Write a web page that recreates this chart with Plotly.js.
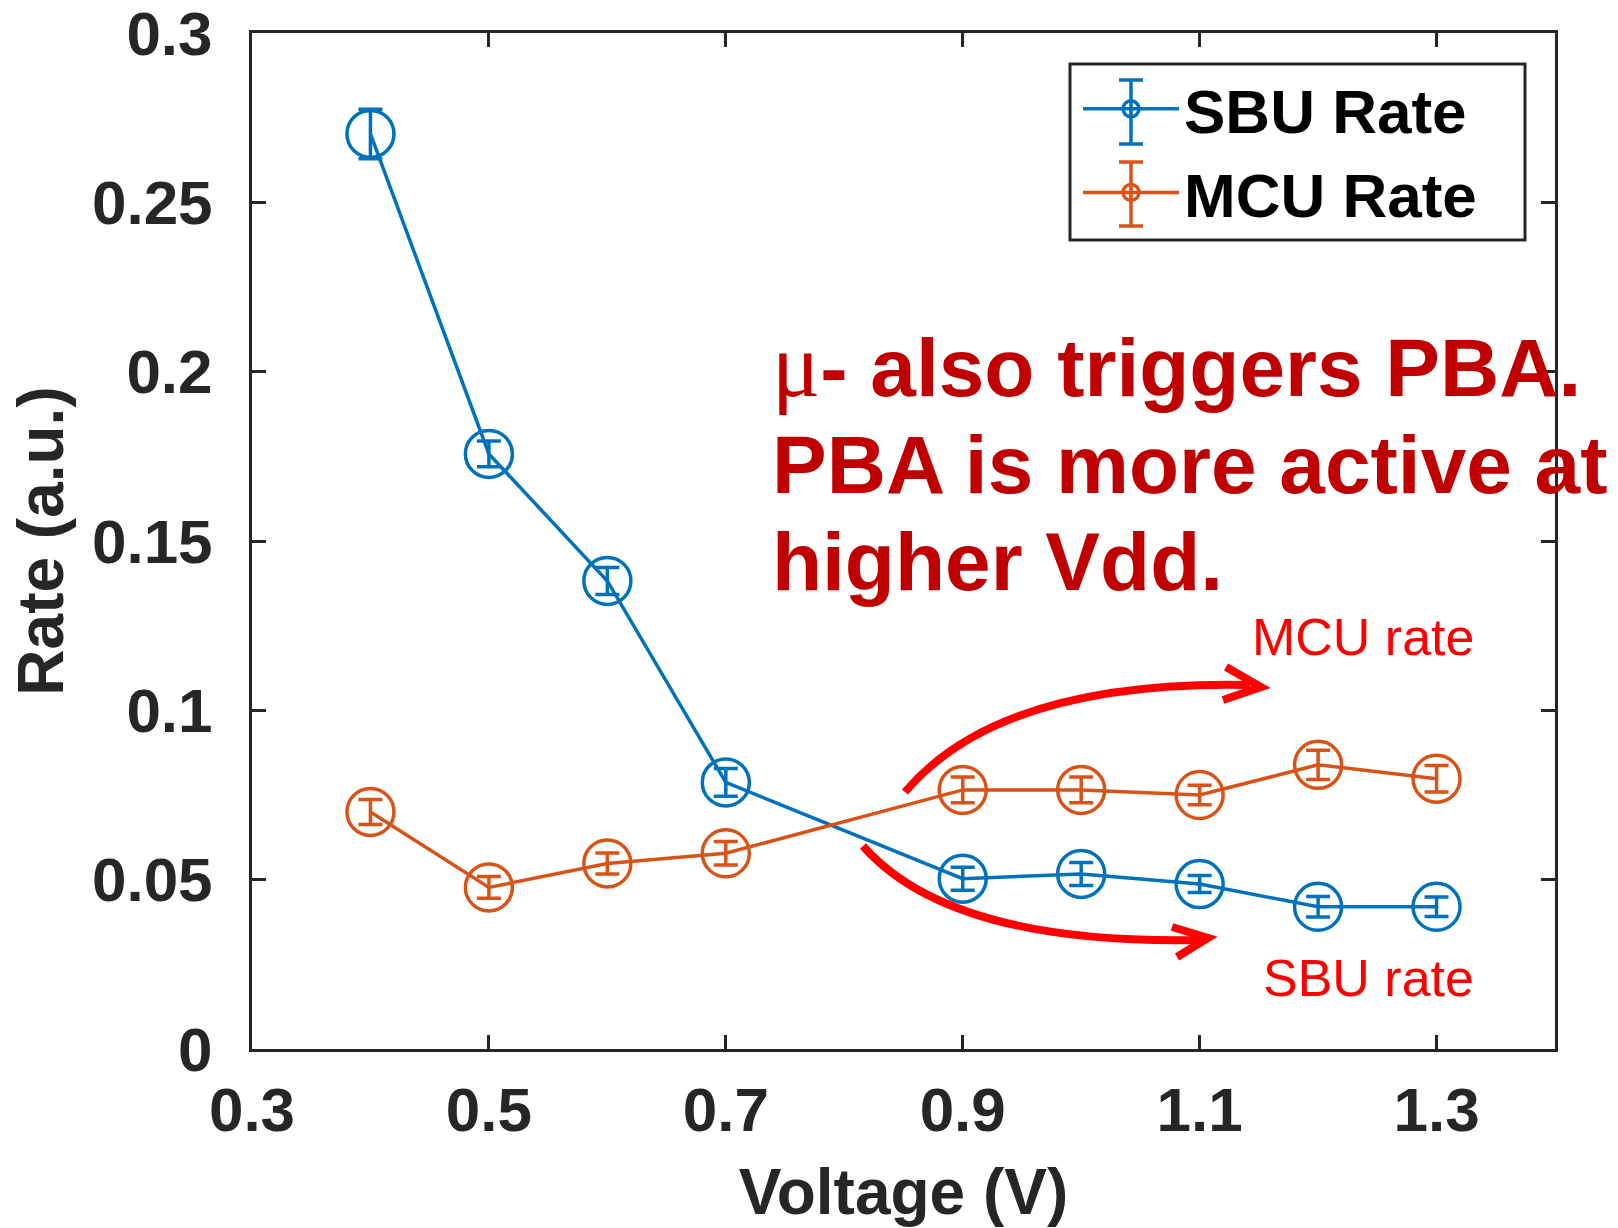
<!DOCTYPE html>
<html>
<head>
<meta charset="utf-8">
<script src="https://cdn.plot.ly/plotly-3.0.1.min.js"></script>
<style>html,body{margin:0;padding:0;background:#fff;}#chart{width:1618px;height:1228px;}</style>
</head>
<body>
<div id="chart"></div>
<script>
// ---- data ----
const voltage = [0.4, 0.5, 0.6, 0.7, 0.9, 1.0, 1.1, 1.2, 1.3];
const sbuRate = [0.2702, 0.1757, 0.1382, 0.0787, 0.0503, 0.0517, 0.0487, 0.0420, 0.0420];
const sbuErr  = [0.0073, 0.0038, 0.0040, 0.0041, 0.0034, 0.0034, 0.0025, 0.0030, 0.0029];
const mcuRate = [0.0700, 0.0477, 0.0548, 0.0578, 0.0765, 0.0765, 0.0750, 0.0839, 0.0798];
const mcuErr  = [0.0037, 0.0032, 0.0031, 0.0035, 0.0038, 0.0038, 0.0029, 0.0043, 0.0039];
const seriesNames = ['SBU Rate', 'MCU Rate'];
const xTickVals = [0.3, 0.5, 0.7, 0.9, 1.1, 1.3];
const xTickText = ['0.3', '0.5', '0.7', '0.9', '1.1', '1.3'];
const yTickVals = [0, 0.05, 0.1, 0.15, 0.2, 0.25, 0.3];
const yTickText = ['0', '0.05', '0.1', '0.15', '0.2', '0.25', '0.3'];
const noteLines = ['<span style="font-family:Liberation Serif;font-weight:normal;font-size:90px">μ</span>- also triggers PBA.',
                   'PBA is more active at', 'higher Vdd.'];
const arrowLabels = ['MCU rate', 'SBU rate'];

// ---- layout geometry ----
const W = 1618, H = 1228;
const L = 252, R = 1555, T = 33, B = 1049;
const xRange = [0.3, 1.4], yRange = [0, 0.3];
const FONT = 'Liberation Sans, Arial, Helvetica, sans-serif';
const AX = '#262626';
const BLUE = '#0072BD', ORANGE = '#D95319';
const LW = 3.5;

// pixel -> data / paper helpers for decorations
const px2x = p => xRange[0] + (p - L) / (R - L) * (xRange[1] - xRange[0]);
const py2y = p => yRange[0] + (B - p) / (B - T) * (yRange[1] - yRange[0]);
const px2p = p => (p - L) / (R - L);
const py2p = p => (B - p) / (B - T);
const pt = (a, b) => px2x(a) + ',' + py2y(b);

function mkTrace(name, y, err, color) {
  return {
    type: 'scatter', mode: 'lines+markers', name: name,
    x: voltage, y: y,
    line: {color: color, width: LW},
    marker: {symbol: 'circle-open', size: 47, color: color, line: {width: LW, color: color}},
    error_y: {type: 'data', array: err, visible: true, color: color, thickness: LW, width: 12},
    cliponaxis: false
  };
}

const data = [
  mkTrace(seriesNames[0], sbuRate, sbuErr, BLUE),
  mkTrace(seriesNames[1], mcuRate, mcuErr, ORANGE)
];

const red = '#FF0000';
const shapes = [
  // legend frame
  {type: 'rect', xref: 'paper', yref: 'paper', x0: px2p(1070), x1: px2p(1525), y0: py2p(240), y1: py2p(64),
   line: {color: AX, width: 3}, fillcolor: '#fff', layer: 'above'},
  // curved red arrows
  {type: 'path', xref: 'x', yref: 'y', path: 'M' + pt(905, 792) + ' Q' + pt(1000, 680) + ' ' + pt(1250, 685),
   line: {color: red, width: 8}},
  {type: 'path', xref: 'x', yref: 'y', path: 'M' + pt(1226, 667) + ' L' + pt(1261, 687) + ' L' + pt(1223, 700),
   line: {color: red, width: 8}},
  {type: 'path', xref: 'x', yref: 'y', path: 'M' + pt(863, 846) + ' Q' + pt(950, 945) + ' ' + pt(1200, 940),
   line: {color: red, width: 8}},
  {type: 'path', xref: 'x', yref: 'y', path: 'M' + pt(1172, 927) + ' L' + pt(1208, 938) + ' L' + pt(1177, 957),
   line: {color: red, width: 8}}
];
// error-bar glyphs inside the legend
const legGlyph = [[BLUE, 112], [ORANGE, 194]];
const legX = 1131;
legGlyph.forEach(([c, yc]) => {
  const y0 = yc - 32, y1 = yc + 32;
  shapes.push({type: 'line', xref: 'paper', yref: 'paper', x0: px2p(legX), x1: px2p(legX), y0: py2p(y0), y1: py2p(y1),
               line: {color: c, width: LW}, layer: 'above'});
  [y0, y1].forEach(yy => shapes.push({type: 'line', xref: 'paper', yref: 'paper', x0: px2p(legX - 12), x1: px2p(legX + 12),
               y0: py2p(yy), y1: py2p(yy), line: {color: c, width: LW}, layer: 'above'}));
});

const noteFont = {family: FONT, size: 82, color: '#C00000', weight: 'bold'};
const lineCenters = [365, 464, 561];
const annotations = noteLines.map((t, i) => ({
  xref: 'x', yref: 'y', x: px2x(770), y: py2y(lineCenters[i]),
  xanchor: 'left', yanchor: 'middle', text: t, showarrow: false, font: noteFont
}));
annotations.push({xref: 'x', yref: 'y', x: px2x(1476), y: py2y(637), xanchor: 'right', yanchor: 'middle',
  text: arrowLabels[0], showarrow: false, font: {family: FONT, size: 52, color: red}});
annotations.push({xref: 'x', yref: 'y', x: px2x(1476), y: py2y(978), xanchor: 'right', yanchor: 'middle',
  text: arrowLabels[1], showarrow: false, font: {family: FONT, size: 52, color: red}});

const axisCommon = {
  showline: true, linecolor: AX, linewidth: 3, mirror: 'ticks',
  ticks: 'inside', ticklen: 14, tickwidth: 3, tickcolor: AX,
  showgrid: false, zeroline: false, ticklabeloverflow: 'allow',
  tickfont: {family: FONT, size: 62, color: AX, weight: 'bold'},
  tickmode: 'array'
};

const layout = {
  width: W, height: H,
  margin: {l: L, r: W - R, t: T, b: H - B, pad: 0},
  paper_bgcolor: '#fff', plot_bgcolor: '#fff',
  showlegend: true,
  legend: {
    x: px2p(1078), y: py2p(62), xanchor: 'left', yanchor: 'top',
    borderwidth: 0, bgcolor: 'rgba(0,0,0,0)',
    font: {family: FONT, size: 62, color: '#000', weight: 'bold'},
    itemwidth: 96, tracegroupgap: 0
  },
  xaxis: Object.assign({}, axisCommon, {
    range: xRange, tickvals: xTickVals, ticktext: xTickText, ticklabelstandoff: 5,
    title: {text: 'Voltage (V)', font: {family: FONT, size: 64, color: AX, weight: 'bold'}, standoff: 42}
  }),
  yaxis: Object.assign({}, axisCommon, {
    range: yRange, tickvals: yTickVals, ticktext: yTickText, ticklabelstandoff: 24,
    title: {text: 'Rate (a.u.)', font: {family: FONT, size: 64, color: AX, weight: 'bold'}, standoff: 8}
  }),
  shapes: shapes,
  annotations: annotations
};

Plotly.newPlot('chart', data, layout, {staticPlot: true});
</script>
</body>
</html>
